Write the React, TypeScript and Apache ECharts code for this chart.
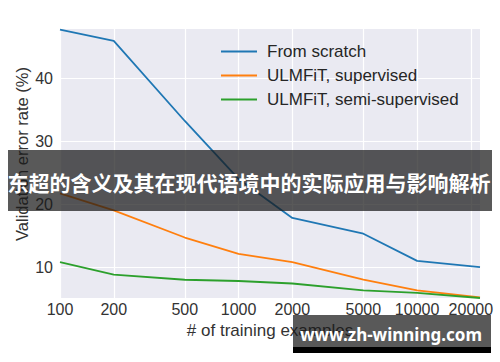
import React, { useEffect, useRef } from "react";
import * as echarts from "echarts";

const trainingSizes = [100, 200, 500, 1000, 2000, 5000, 10000, 22500];
const fromScratch = [47.7, 45.9, 33.2, 24.0, 17.8, 15.3, 11.0, 10.0];
const ulmfitSupervised = [21.7, 19.0, 14.7, 12.1, 10.8, 8.0, 6.3, 5.2];
const ulmfitSemiSupervised = [10.8, 8.8, 8.0, 7.8, 7.4, 6.3, 5.9, 5.1];
const xTickLabels = [100, 200, 500, 1000, 2000, 5000, 10000, 20000];
const yTickLabels = [10, 20, 30, 40];
const seriesNames = ["From scratch", "ULMFiT, supervised", "ULMFiT, semi-supervised"];
const seriesColors = ["#1f77b4", "#ff7f0e", "#2ca02c"];

export default function App() {
  const ref = useRef<HTMLDivElement>(null);
  useEffect(() => {
    if (!ref.current) return;
    const chart = echarts.init(ref.current, undefined, { renderer: "svg" });
    const values = [fromScratch, ulmfitSupervised, ulmfitSemiSupervised];
    const font = "'Liberation Sans', Arial, sans-serif";
    chart.setOption({
      animation: false,
      backgroundColor: "#ffffff",
      grid: { left: 60, top: 29, width: 420, height: 269, containLabel: false, backgroundColor: "#eaeaf2", show: true, borderWidth: 0 },
      legend: {
        orient: "vertical",
        left: 215,
        top: 37,
        itemWidth: 36,
        itemHeight: 14,
        itemGap: 5,
        itemStyle: { opacity: 0 },
        textStyle: { fontSize: 17, lineHeight: 19, color: "#262626", fontFamily: font, padding: [0, 0, 0, 5] },
        data: seriesNames,
      },
      xAxis: {
        type: "log",
        logBase: 10,
        min: 100,
        max: 22500,
        name: "# of training examples",
        nameLocation: "middle",
        nameGap: 21,
        nameTextStyle: { fontSize: 17, color: "#333333", fontFamily: font },
        axisLine: { show: false },
        axisTick: { show: false, customValues: xTickLabels },
        axisLabel: { customValues: xTickLabels, formatter: (v: number) => String(Math.round(v)), fontSize: 16, color: "#333333", fontFamily: font, margin: 3 },
        splitLine: { show: true, lineStyle: { color: "#ffffff", width: 1.2 } },
      },
      yAxis: {
        type: "value",
        min: 5.1,
        max: 47.8,
        axisLine: { show: false },
        axisTick: { show: false, customValues: yTickLabels },
        axisLabel: { customValues: yTickLabels, fontSize: 16, color: "#333333", fontFamily: font, margin: 7 },
        splitLine: { show: true, lineStyle: { color: "#ffffff", width: 1.2 } },
      },
      series: seriesNames.map((name, i) => ({
        name,
        type: "line",
        symbol: "none",
        color: seriesColors[i],
        lineStyle: { width: 1.8, color: seriesColors[i] },
        data: trainingSizes.map((x, j) => [x, values[i][j]]),
      })),
      graphic: [
        {
          type: "text",
          x: 22,
          y: 154,
          rotation: Math.PI / 2,
          style: { text: "Validation error rate (%)", fontSize: 16.5, fill: "#333333", fontFamily: font, align: "center", verticalAlign: "middle" },
        },
        {
          type: "rect",
          shape: { x: 8, y: 150, width: 484, height: 61 },
          style: { fill: "rgba(25,25,25,0.72)" },
          z: 100,
        },
        {
          type: "text",
          x: 249,
          y: 182,
          z: 101,
          style: { text: "东超的含义及其在现代语境中的实际应用与影响解析", fontSize: 21, fontWeight: "bold", fill: "#ffffff", fontFamily: "'Noto Sans CJK SC', sans-serif", align: "center", verticalAlign: "middle" },
        },
        {
          type: "rect",
          shape: { x: 293, y: 315, width: 198, height: 32 },
          style: { fill: "rgba(25,25,25,0.72)" },
          z: 100,
        },
        {
          type: "rect",
          shape: { x: 293, y: 347, width: 198, height: 6 },
          style: { fill: "#000000" },
          z: 100,
        },
        {
          type: "text",
          x: 391,
          y: 334,
          z: 101,
          style: { text: "www.zh-winning.com", fontSize: 17, fontWeight: "bold", fill: "#ffffff", fontFamily: "'Noto Sans', sans-serif", align: "center", verticalAlign: "middle" },
        },
      ],
    });
    return () => chart.dispose();
  }, []);
  return <div ref={ref} style={{ position: "fixed", left: 0, top: 0, width: 500, height: 362 }} />;
}
